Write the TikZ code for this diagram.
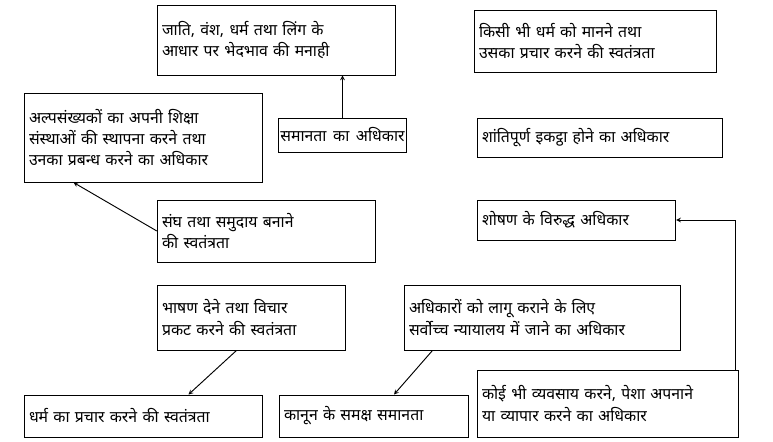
\documentclass[tikz,border=0pt]{standalone}
\usepackage{fontspec}
\newfontfamily\hindi[Script=Devanagari,WordSpace=1.6]{Noto Sans}
\usetikzlibrary{positioning}
\tikzset{
  box/.style={draw, thick, align=left, inner xsep=4pt, inner ysep=3pt, font={\hindi\fontsize{13.5pt}{18pt}\selectfont}},
  link/.style={->, thick, >=stealth}}
\begin{document}
\begin{tikzpicture}[x=0.03cm, y=-0.03cm]
\useasboundingbox (0,0) rectangle (773,442);
\node[box, text width=229*0.03cm, minimum height=70*0.03cm] (nodisc) at (276.5,40) {जाति, वंश, धर्म तथा लिंग के\\आधार पर भेदभाव की मनाही};
\node[box, text width=233*0.03cm, minimum height=62*0.03cm] (relig) at (595.5,41) {किसी भी धर्म को मानने तथा\\उसका प्रचार करने की स्वतंत्रता};
\node[box, text width=229*0.03cm, minimum height=89*0.03cm] (minor) at (143.5,137.5) {अल्पसंख्यकों का अपनी शिक्षा\\संस्थाओं की स्थापना करने तथा\\उनका प्रबन्ध करने का अधिकार};
\node[box, inner xsep=2pt, minimum width=125*0.03cm, minimum height=34*0.03cm] (equal) at (342.5,135) {समानता का अधिकार};
\node[box, text width=236*0.03cm, minimum height=39*0.03cm] (assem) at (600,137.5) {शांतिपूर्ण इकट्ठा होने का अधिकार};
\node[box, text width=209*0.03cm, minimum height=62*0.03cm] (union) at (266.5,231) {संघ तथा समुदाय बनाने\\की स्वतंत्रता};
\node[box, text width=189*0.03cm, minimum height=40*0.03cm] (exploit) at (576.5,220) {शोषण के विरुद्ध अधिकार};
\node[box, text width=179*0.03cm, minimum height=65*0.03cm] (speech) at (251.5,317.5) {भाषण देने तथा विचार\\प्रकट करने की स्वतंत्रता};
\node[box, text width=267*0.03cm, minimum height=65*0.03cm] (court) at (542.5,317.5) {अधिकारों को लागू कराने के लिए\\सर्वोच्च न्यायालय में जाने का अधिकार};
\node[box, text width=229*0.03cm, minimum height=42*0.03cm] (preach) at (143.5,416) {धर्म का प्रचार करने की स्वतंत्रता};
\node[box, text width=180*0.03cm, minimum height=42*0.03cm] (law) at (374,416) {कानून के समक्ष समानता};
\node[box, text width=252*0.03cm, minimum height=67*0.03cm] (trade) at (608,403.5) {कोई भी व्यवसाय करने, पेशा अपनाने\\या व्यापार करने का अधिकार};
\draw[link] (equal.north) -- (equal.north |- nodisc.south);
\draw[link] (union.west) -- ([xshift=-70*0.03cm]minor.south);
\draw[link] ([xshift=-15*0.03cm]speech.south) -- ([xshift=45*0.03cm]preach.north);
\draw[link] ([xshift=-110*0.03cm]court.south) -- ([xshift=20*0.03cm]law.north);
\draw[link] ([xshift=-4*0.03cm]trade.north east) |- (exploit.east);
\end{tikzpicture}
\end{document}
